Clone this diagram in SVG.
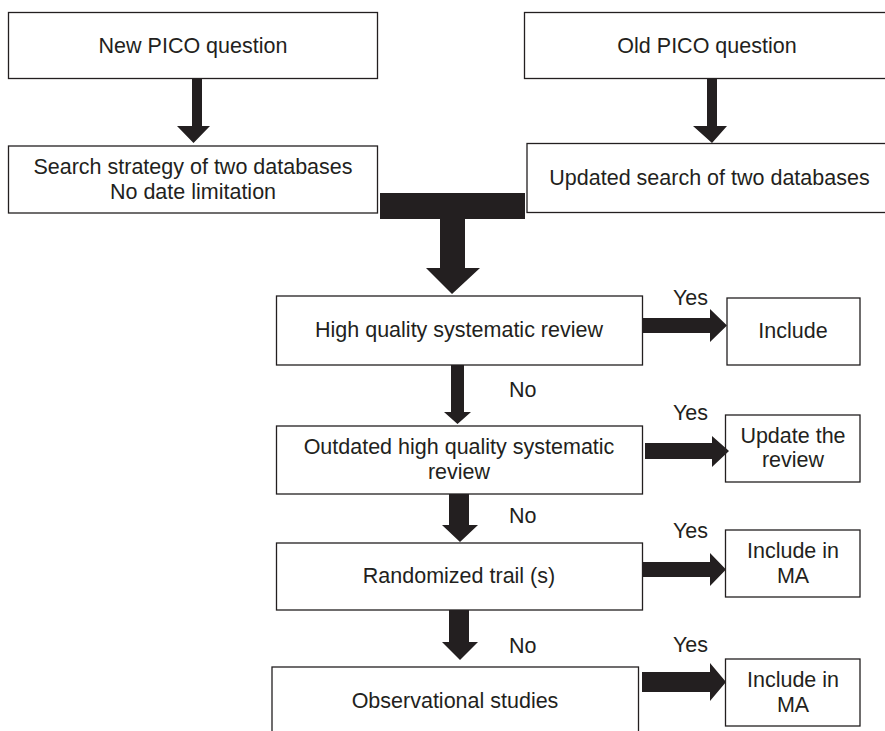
<svg xmlns="http://www.w3.org/2000/svg" width="885" height="731" viewBox="0 0 885 731">
<style>
.box{fill:#fff;stroke:#231f20;stroke-width:1.3}
.t{font-family:"Liberation Sans",Arial,sans-serif;font-size:21.5px;fill:#231f20;text-anchor:middle}
.lbl{font-family:"Liberation Sans",Arial,sans-serif;font-size:21.5px;fill:#231f20}
.arr{fill:#231f20}
</style>
<rect width="885" height="731" fill="#fff"/>
<g id="new-pico"><rect class="box" x="8.5" y="12.5" width="369" height="66"/><text class="t" x="193" y="53">New PICO question</text></g>
<g id="search-strategy"><rect class="box" x="8.5" y="146" width="369" height="67"/><text class="t" x="193" y="174">Search strategy of two databases</text><text class="t" x="193" y="199">No date limitation</text></g>
<g id="old-pico"><rect class="box" x="524.5" y="12.5" width="370" height="66"/><text class="t" x="707" y="53">Old PICO question</text></g>
<g id="updated-search"><rect class="box" x="527" y="143.5" width="370" height="69"/><text class="t" x="709.5" y="185">Updated search of two databases</text></g>
<g id="high-quality"><rect class="box" x="276.5" y="296" width="366" height="69"/><text class="t" x="459" y="337">High quality systematic review</text></g>
<g id="include"><rect class="box" x="727" y="298" width="133" height="67"/><text class="t" x="793" y="338">Include</text></g>
<g id="outdated"><rect class="box" x="276.5" y="426" width="366" height="68"/><text class="t" x="459" y="454">Outdated high quality systematic</text><text class="t" x="459" y="479">review</text></g>
<g id="update-review"><rect class="box" x="725.5" y="415" width="134.5" height="67"/><text class="t" x="793" y="443">Update the</text><text class="t" x="793" y="467">review</text></g>
<g id="randomized"><rect class="box" x="276.5" y="543" width="366" height="67"/><text class="t" x="459" y="583">Randomized trail (s)</text></g>
<g id="include-ma-1"><rect class="box" x="725.5" y="530" width="134.5" height="67"/><text class="t" x="793" y="558">Include in</text><text class="t" x="793" y="583">MA</text></g>
<g id="observational"><rect class="box" x="272" y="667" width="366.5" height="80"/><text class="t" x="455" y="708">Observational studies</text></g>
<g id="include-ma-2"><rect class="box" x="725.5" y="659" width="134.5" height="67"/><text class="t" x="793" y="687">Include in</text><text class="t" x="793" y="712">MA</text></g>
<g id="connectors">
<polygon class="arr" points="192,78 202,78 202,126 210,126 193.5,143 177,126 192,126"/>
<polygon class="arr" points="707,78 717,78 717,126 727,126 712,143 693,126 707,126"/>
<rect class="arr" x="380" y="193" width="145" height="26"/>
<polygon class="arr" points="440,219 465,219 465,268 480,268 452,294 426,268 440,268"/>
<polygon class="arr" points="451,365 464,365 464,412 471,412 457.5,424 444,412 451,412"/>
<polygon class="arr" points="449,494 469,494 469,525 478,525 460,542 442,525 449,525"/>
<polygon class="arr" points="449,610 469,610 469,642 478,642 460,660 442,642 449,642"/>
<polygon class="arr" points="643,318 710,318 710,309 727,325.5 710,342 710,333 643,333"/>
<polygon class="arr" points="645,443 712,443 712,436 729,451 712,467 712,459 645,459"/>
<polygon class="arr" points="643,562 710,562 710,553 726,569.5 710,586 710,577 643,577"/>
<polygon class="arr" points="642,672 710,672 710,663 726,682 710,701 710,692 642,692"/>
</g>
<g id="labels">
<text class="lbl" x="673" y="305">Yes</text>
<text class="lbl" x="673" y="420">Yes</text>
<text class="lbl" x="673" y="538">Yes</text>
<text class="lbl" x="673" y="652">Yes</text>
<text class="lbl" x="509" y="397">No</text>
<text class="lbl" x="509" y="523">No</text>
<text class="lbl" x="509" y="653">No</text>
</g>
</svg>
